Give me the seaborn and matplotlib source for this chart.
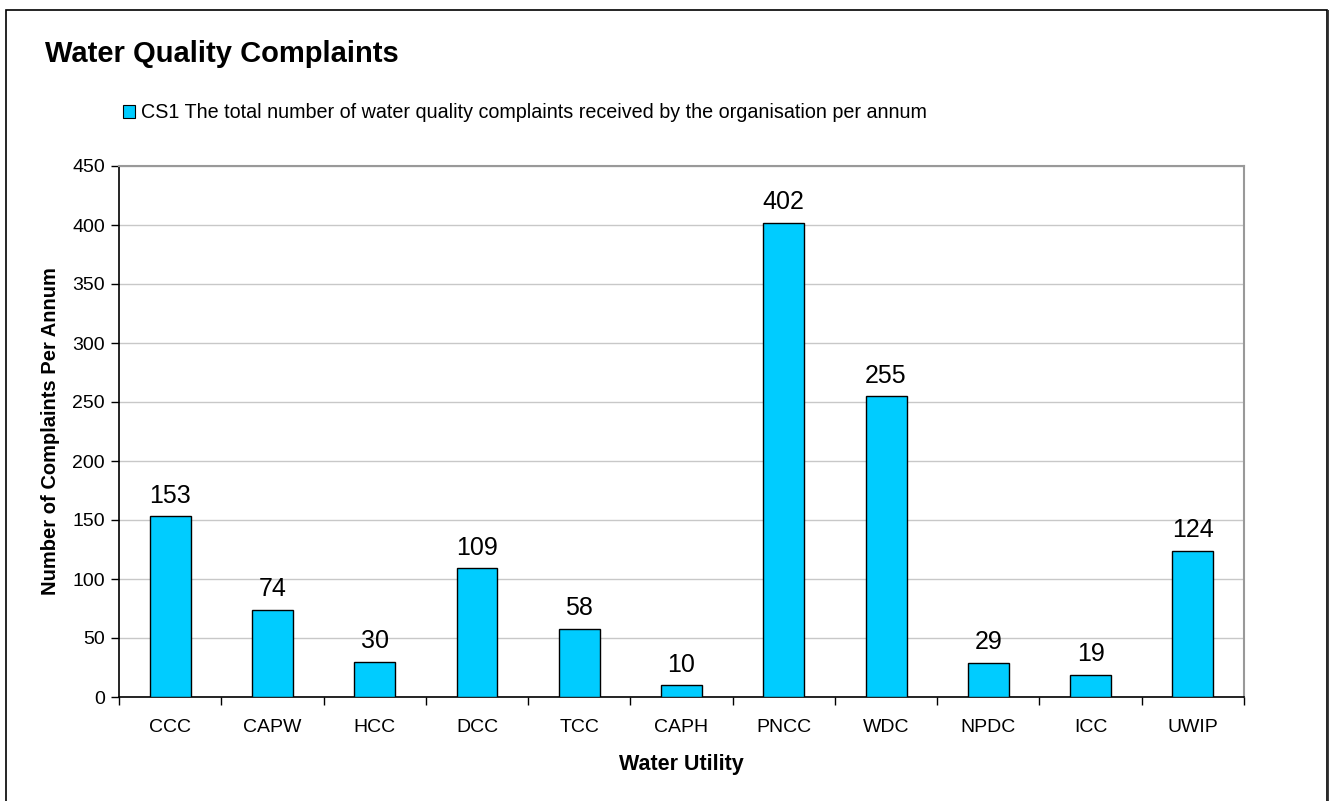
import matplotlib
matplotlib.use("Agg")
import matplotlib.pyplot as plt
from matplotlib.patches import Rectangle, Patch
from matplotlib.ticker import FixedLocator, NullFormatter
import seaborn as sns
import pandas as pd
import numpy as np

# Complaints per utility
utilities = ["CCC", "CAPW", "HCC", "DCC", "TCC", "CAPH", "PNCC", "WDC", "NPDC", "ICC", "UWIP"]
complaints = [153, 74, 30, 109, 58, 10, 402, 255, 29, 19, 124]
series_name = "CS1 The total number of water quality complaints received by the organisation per annum"
y_ticks = [0, 50, 100, 150, 200, 250, 300, 350, 400, 450]

sns.set_style("white")
plt.rcParams["font.family"] = ["Liberation Sans", "DejaVu Sans"]
plt.rcParams.update({"text.color": "black", "axes.labelcolor": "black",
                     "xtick.color": "black", "ytick.color": "black"})

W, H = 1333, 801
fig = plt.figure(figsize=(W / 100, H / 100), dpi=100)

# outer chart frame
fig.patches.append(Rectangle((6 / W, -0.05), (1327 - 6) / W, 1 - 10 / H + 0.05,
                             transform=fig.transFigure, fill=False,
                             edgecolor="black", linewidth=1.2, zorder=0))
fig.patches.append(Rectangle((1327.5 / W, -0.05), 1.5 / W, 1 - 10 / H + 0.05,
                             transform=fig.transFigure, fill=True,
                             facecolor="#404040", edgecolor="none", zorder=0))

left, right = 119 / W, 1244 / W
bottom, top = 1 - 697 / H, 1 - 166 / H
ax = fig.add_axes([left, bottom, right - left, top - bottom])

df = pd.DataFrame({"Utility": utilities, "Complaints": complaints})
sns.barplot(data=df, x="Utility", y="Complaints", ax=ax, width=0.4,
            color="#00CCFF", saturation=1, edgecolor="black", linewidth=1, zorder=3)

ax.set_ylim(0, 450)
ax.set_xlim(-0.5, len(utilities) - 0.5)
ax.set_yticks(y_ticks)
ax.yaxis.grid(True, color="#c8c8c8", linewidth=1, zorder=0)
ax.set_axisbelow(True)

# x ticks on category boundaries, labels at category centres
ax.xaxis.set_major_locator(FixedLocator(np.arange(-0.5, len(utilities), 1.0)))
ax.xaxis.set_major_formatter(NullFormatter())
ax.xaxis.set_minor_locator(FixedLocator(np.arange(len(utilities))))
ax.set_xticklabels(utilities, minor=True)
ax.tick_params(axis="x", which="major", length=6, width=1, color="black", direction="out", bottom=True)
ax.tick_params(axis="x", which="minor", length=0, labelsize=14, pad=16)
ax.tick_params(axis="y", length=6, width=1, color="black", direction="out", left=True,
               labelsize=14, pad=4)

for s in ["left", "bottom"]:
    ax.spines[s].set_color("black")
    ax.spines[s].set_linewidth(1.2)
for s in ["top", "right"]:
    ax.spines[s].set_visible(True)
    ax.spines[s].set_color("#999999")
    ax.spines[s].set_linewidth(1.5)

ax.set_xlabel("Water Utility", fontsize=15.5, fontweight="bold", labelpad=13)
ax.set_ylabel("Number of Complaints Per Annum", fontsize=14.5, fontweight="bold", labelpad=9)

for c in ax.containers:
    ax.bar_label(c, labels=[str(v) for v in complaints], padding=6, fontsize=18)

fig.text(45 / W, 1 - 54 / H, "Water Quality Complaints", fontsize=21,
         fontweight="bold", va="center", ha="left")

handle = Patch(facecolor="#00CCFF", edgecolor="black", linewidth=0.8)
fig.legend([handle], [series_name], loc="center left",
           bbox_to_anchor=(123 / W, 1 - 113 / H), frameon=False, fontsize=14.2,
           handlelength=0.6, handleheight=0.6, handletextpad=0.3, borderpad=0, borderaxespad=0)

fig.savefig("out.png", dpi=100)
